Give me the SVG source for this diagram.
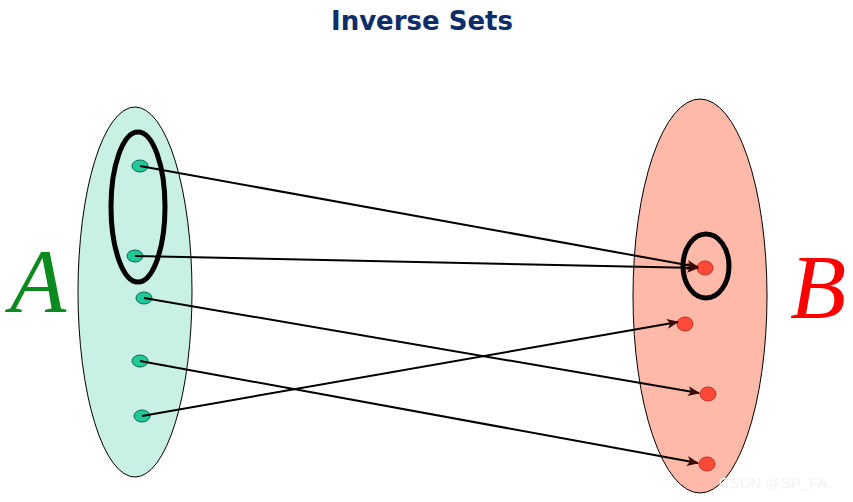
<svg xmlns="http://www.w3.org/2000/svg" width="853" height="502" viewBox="0 0 853 502">
<defs>
<marker id="ah" markerWidth="12" markerHeight="10" refX="11" refY="5" orient="auto" markerUnits="userSpaceOnUse">
<path d="M0,0 L12,5 L0,10 L3,5 Z" fill="#3a0a00"/>
</marker>
<style>
.a{fill:#1fc99a;stroke:#0a6a50;stroke-width:1}
.b{fill:#ff4a3a;stroke:#c03020;stroke-width:1}
.c{stroke:#000;stroke-width:2;fill:none;marker-end:url(#ah)}
.ring{fill:none;stroke:#000;stroke-width:5}
</style>
</defs>
<rect width="853" height="502" fill="#fff"/>
<text x="422" y="30" text-anchor="middle" font-family="DejaVu Sans" font-weight="bold" font-size="26" fill="#0d2d6b">Inverse Sets</text>
<g id="setA">
<ellipse cx="135" cy="292" rx="57" ry="185" fill="#c8f0e4" stroke="#000" stroke-width="1"/>
<text x="38" y="312" text-anchor="middle" font-family="Liberation Serif" font-style="italic" font-size="92" fill="#0b8a1e">A</text>
<ellipse class="ring" cx="138" cy="207" rx="27" ry="75"/>
<ellipse class="a" cx="140" cy="166" rx="8" ry="6"/>
<ellipse class="a" cx="135" cy="256" rx="8" ry="6"/>
<ellipse class="a" cx="144" cy="298" rx="8" ry="6"/>
<ellipse class="a" cx="140" cy="361" rx="8" ry="6"/>
<ellipse class="a" cx="142" cy="416" rx="8" ry="6"/>
</g>
<g id="setB">
<ellipse cx="700" cy="296" rx="67" ry="197" fill="#ffb9a8" stroke="#000" stroke-width="1"/>
<text x="818" y="318" text-anchor="middle" font-family="Liberation Serif" font-style="italic" font-size="92" fill="#ff0000">B</text>
<ellipse class="ring" cx="706" cy="266" rx="23" ry="32"/>
<ellipse class="b" cx="705" cy="268" rx="8" ry="7"/>
<ellipse class="b" cx="685" cy="324" rx="8" ry="7"/>
<ellipse class="b" cx="708" cy="394" rx="8" ry="7"/>
<ellipse class="b" cx="707" cy="464" rx="8" ry="7"/>
</g>
<g id="connectors">
<line class="c" x1="140" y1="166" x2="698" y2="267"/>
<line class="c" x1="135" y1="256" x2="698" y2="268"/>
<line class="c" x1="144" y1="298" x2="699" y2="393"/>
<line class="c" x1="140" y1="361" x2="698" y2="463"/>
<line class="c" x1="142" y1="416" x2="678" y2="322"/>
</g>
<text x="773" y="488" text-anchor="middle" font-family="Liberation Sans" font-size="15" fill="#f4f4f4">CSDN @SP_FA</text>
</svg>
